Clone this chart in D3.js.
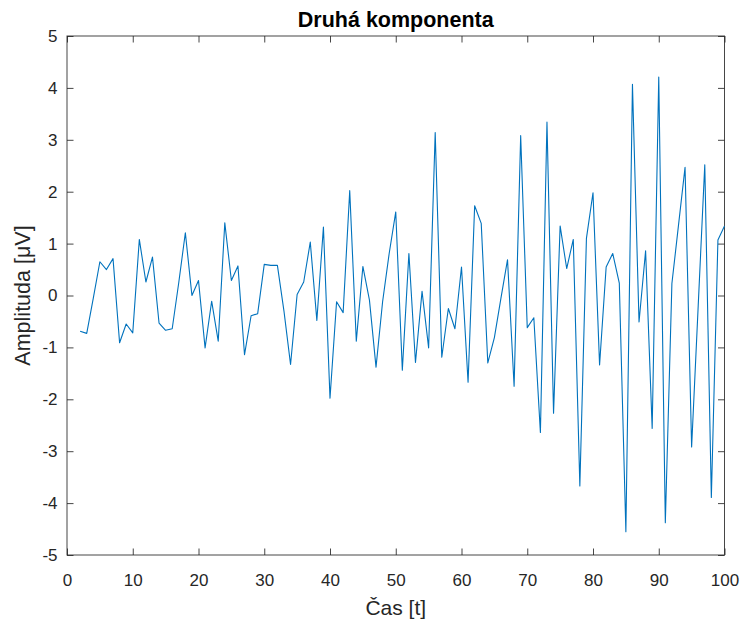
<!DOCTYPE html>
<html>
<head>
<meta charset="utf-8">
<script src="https://cdn.jsdelivr.net/npm/d3@7"></script>
<style>
  html, body { margin: 0; padding: 0; background: #fff; }
  svg { display: block; }
  text { font-family: "Liberation Sans", Arial, Helvetica, sans-serif; fill: #262626; }
</style>
</head>
<body>
<svg id="chart" width="742" height="619"></svg>
<script>
const times = d3.range(2, 101);
const values = [
  -0.69, -0.73, -0.05, 0.65, 0.50, 0.71, -0.91, -0.55, -0.72,
  1.08, 0.26, 0.74, -0.53, -0.67, -0.64, 0.25, 1.21, 0.00, 0.29,
  -1.01, -0.11, -0.88, 1.40, 0.29, 0.57, -1.14, -0.39, -0.35, 0.60,
  0.58, 0.58, -0.30, -1.33, 0.02, 0.26, 1.03, -0.48, 1.32, -1.98,
  -0.12, -0.33, 2.02, -0.88, 0.56, -0.09, -1.38, -0.12, 0.81, 1.61,
  -1.44, 0.81, -1.29, 0.08, -1.01, 3.14, -1.19, -0.25, -0.64, 0.55,
  -1.67, 1.73, 1.39, -1.30, -0.81, -0.05, 0.69, -1.75, 3.08, -0.62,
  -0.43, -2.64, 3.34, -2.27, 1.34, 0.52, 1.08, -3.67, 1.10, 1.98,
  -1.34, 0.55, 0.81, 0.24, -4.55, 4.07, -0.51, 0.86, -2.56, 4.21,
  -4.38, 0.23, 1.35, 2.47, -2.92, -0.20, 2.52, -3.89, 1.07, 1.34
];
const xTicks = d3.range(0, 101, 10);
const yTicks = d3.range(-5, 6, 1);
const titleText = "Druhá komponenta";
const xLabelText = "Čas [t]";
const yLabelText = "Amplituda [μV]";

const margin = { left: 67, right: 742 - 724.5, top: 36, bottom: 619 - 555 };
const W = 742, H = 619;
const svg = d3.select("#chart");

const x = d3.scaleLinear().domain([0, 100]).range([margin.left, W - margin.right]);
const y = d3.scaleLinear().domain([-5, 5]).range([H - margin.bottom, margin.top]);

const axisColor = "#262626";
const tickLen = 6.5;
const tickFont = "17px";

// box
svg.append("rect")
  .attr("x", x(0)).attr("y", y(5))
  .attr("width", x(100) - x(0)).attr("height", y(-5) - y(5))
  .attr("fill", "none").attr("stroke", axisColor).attr("stroke-opacity", 0.85).attr("stroke-width", 1);

function styleAxis(g) {
  g.select(".domain").remove();
  g.selectAll(".tick line").attr("stroke", axisColor).attr("stroke-opacity", 0.85).attr("stroke-width", 1);
  g.selectAll(".tick text").style("font-size", tickFont).attr("fill", axisColor);
}

svg.append("g").attr("transform", `translate(0,${y(-5)})`)
  .call(d3.axisBottom(x).tickValues(xTicks).tickSizeInner(-tickLen).tickSizeOuter(0).tickPadding(18.5).tickFormat(d3.format("d")))
  .call(styleAxis);
svg.append("g").attr("transform", `translate(0,${y(5)})`)
  .call(d3.axisTop(x).tickValues(xTicks).tickSizeInner(-tickLen).tickSizeOuter(0).tickFormat(""))
  .call(styleAxis);
svg.append("g").attr("transform", `translate(${x(0)},0)`)
  .call(d3.axisLeft(y).tickValues(yTicks).tickSizeInner(-tickLen).tickSizeOuter(0).tickPadding(9.5).tickFormat(d => d3.format("d")(d).replace("−", "-")))
  .call(styleAxis);
svg.append("g").attr("transform", `translate(${x(100)},0)`)
  .call(d3.axisRight(y).tickValues(yTicks).tickSizeInner(-tickLen).tickSizeOuter(0).tickFormat(""))
  .call(styleAxis);

// line
const line = d3.line().x((d, i) => x(times[i])).y(d => y(d));
svg.append("path")
  .datum(values)
  .attr("d", line)
  .attr("fill", "none")
  .attr("stroke", "#0072BD")
  .attr("stroke-width", 1.1)
  .attr("stroke-linejoin", "round");

// title
svg.append("text")
  .attr("x", (x(0) + x(100)) / 2).attr("y", 26.5)
  .attr("text-anchor", "middle")
  .style("font-size", "21.5px").style("font-weight", "bold")
  .style("fill", "#000")
  .text(titleText);

// x label
svg.append("text")
  .attr("x", (x(0) + x(100)) / 2).attr("y", 615)
  .attr("text-anchor", "middle")
  .style("font-size", "21px")
  .text(xLabelText);

// y label
svg.append("text")
  .attr("transform", `translate(30,${(y(5) + y(-5)) / 2}) rotate(-90)`)
  .attr("text-anchor", "middle")
  .style("font-size", "21.5px")
  .text(yLabelText);
</script>
</body>
</html>
